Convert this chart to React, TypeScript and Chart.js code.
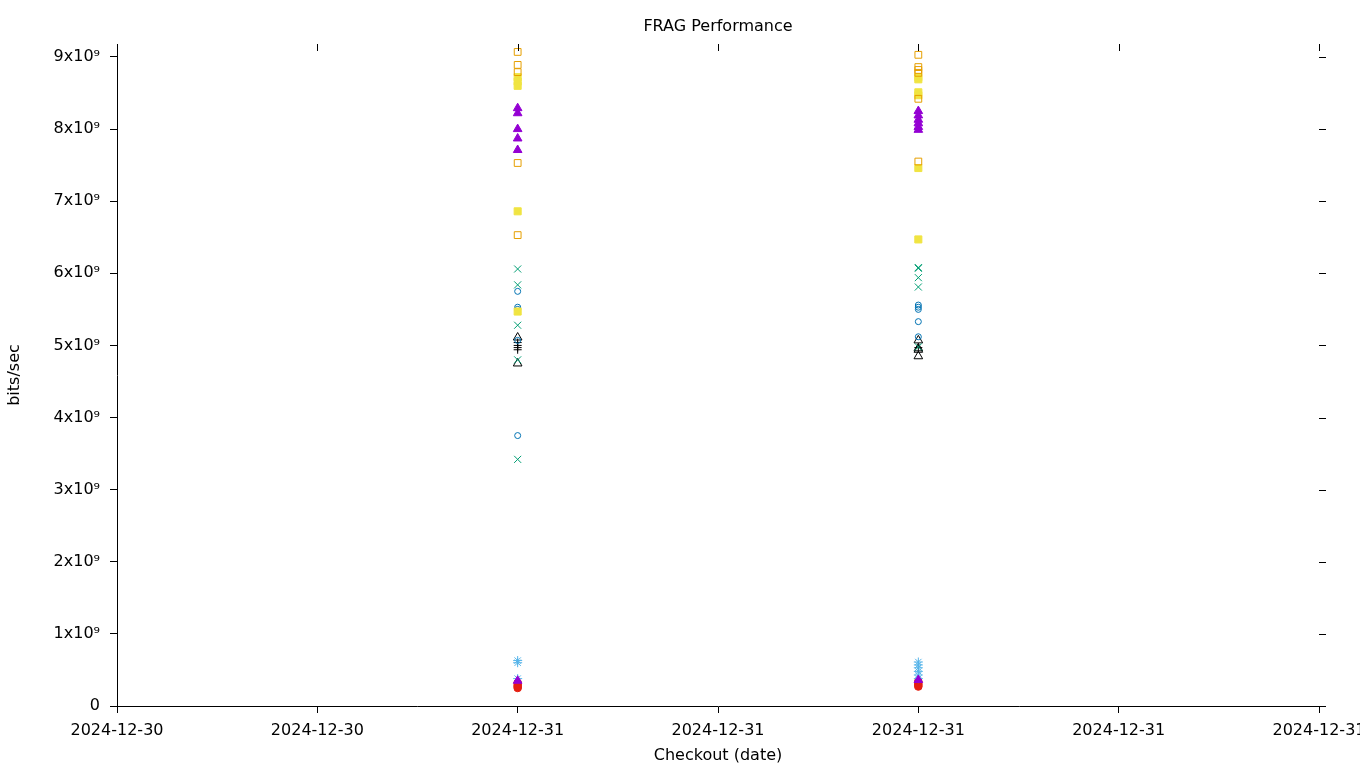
import { useEffect, useRef } from "react";
import { Chart, registerables } from "chart.js";

Chart.register(...registerables);

// x axis: positions 0..6 with their date labels; the two runs sit at 2 and 4
const xTickValues = [0, 1, 2, 3, 4, 5, 6];
const xTickLabels = [
  "2024-12-30",
  "2024-12-30",
  "2024-12-31",
  "2024-12-31",
  "2024-12-31",
  "2024-12-31",
  "2024-12-31",
];
const runX1 = 2;
const runX2 = 4;

const yTickValues = [0, 1e9, 2e9, 3e9, 4e9, 5e9, 6e9, 7e9, 8e9, 9e9];
const yTickLabels = [
  "0",
  "1x10⁹",
  "2x10⁹",
  "3x10⁹",
  "4x10⁹",
  "5x10⁹",
  "6x10⁹",
  "7x10⁹",
  "8x10⁹",
  "9x10⁹",
];
const yMax = 9.18e9;

// series values (bits/sec) for first and second run
const purpleRun1 = [8.29e9, 8.22e9, 8.0e9, 7.87e9, 7.71e9, 0.35e9];
const purpleRun2 = [8.25e9, 8.19e9, 8.13e9, 8.08e9, 8.03e9, 7.99e9, 0.36e9];
const greenRun1 = [6.06e9, 5.84e9, 5.28e9, 4.8e9, 3.42e9];
const greenRun2 = [6.08e9, 6.07e9, 5.94e9, 5.81e9, 4.98e9];
const lightBlueRun1 = [0.63e9, 0.6e9, 0.38e9];
const lightBlueRun2 = [0.61e9, 0.57e9, 0.53e9, 0.48e9, 0.43e9, 0.38e9];
const orangeRun1 = [9.07e9, 8.89e9, 8.79e9, 7.53e9, 6.53e9];
const orangeRun2 = [9.03e9, 8.86e9, 8.82e9, 8.78e9, 8.42e9, 7.55e9];
const yellowRun1 = [8.72e9, 8.66e9, 8.6e9, 6.86e9, 5.47e9];
const yellowRun2 = [8.72e9, 8.69e9, 8.51e9, 8.47e9, 7.46e9, 6.47e9];
const darkBlueRun1 = [5.75e9, 5.53e9, 5.5e9, 5.07e9, 3.75e9];
const darkBlueRun2 = [5.56e9, 5.53e9, 5.5e9, 5.33e9, 5.12e9];
const redRun1 = [0.32e9, 0.29e9, 0.27e9, 0.25e9];
const redRun2 = [0.34e9, 0.31e9, 0.29e9, 0.27e9];
const blackPlusRun1 = [5.04e9, 5.0e9, 4.97e9, 4.94e9];
const blackPlusRun2 = [4.97e9];
const blackTriRun1 = [5.11e9, 4.75e9];
const blackTriRun2 = [5.07e9, 4.96e9, 4.94e9, 4.85e9];

type SeriesDef = {
  run1: number[];
  run2: number[];
  color: string;
  style: string;
  radius: number;
  filled: boolean;
};

const seriesDefs: SeriesDef[] = [
  { run1: purpleRun1, run2: purpleRun2, color: "#9400D3", style: "triangle", radius: 5, filled: true },
  { run1: greenRun1, run2: greenRun2, color: "#009E73", style: "crossRot", radius: 5, filled: false },
  { run1: lightBlueRun1, run2: lightBlueRun2, color: "#56B4E9", style: "star", radius: 4.5, filled: false },
  { run1: orangeRun1, run2: orangeRun2, color: "#E69F00", style: "rect", radius: 4.8, filled: false },
  { run1: yellowRun1, run2: yellowRun2, color: "#F0E442", style: "rect", radius: 5, filled: true },
  { run1: darkBlueRun1, run2: darkBlueRun2, color: "#0072B2", style: "circle", radius: 3, filled: false },
  { run1: redRun1, run2: redRun2, color: "#E51E10", style: "circle", radius: 3.8, filled: true },
  { run1: blackPlusRun1, run2: blackPlusRun2, color: "#000000", style: "cross", radius: 4, filled: false },
  { run1: blackTriRun1, run2: blackTriRun2, color: "#000000", style: "triangle", radius: 5, filled: false },
];

const mirrorTicks = {
  id: "mirrorTicks",
  afterDraw(chart: any) {
    const { ctx, chartArea, scales } = chart;
    ctx.save();
    ctx.strokeStyle = "#000";
    ctx.lineWidth = 1;
    ctx.beginPath();
    scales.x.ticks.forEach((t: any) => {
      const px = Math.round(scales.x.getPixelForValue(t.value)) + 0.5;
      ctx.moveTo(px, chartArea.top);
      ctx.lineTo(px, chartArea.top + 7);
    });
    scales.y.ticks.forEach((t: any) => {
      const py = Math.round(scales.y.getPixelForValue(t.value)) + 0.5;
      ctx.moveTo(chartArea.right, py);
      ctx.lineTo(chartArea.right + 7, py);
    });
    ctx.stroke();
    ctx.restore();
  },
};

export default function App() {
  const canvasRef = useRef<HTMLCanvasElement | null>(null);

  useEffect(() => {
    document.body.style.margin = "0";
    document.body.style.overflow = "hidden";
    document.documentElement.style.overflow = "hidden";
    const canvas = canvasRef.current;
    if (!canvas) return;

    const datasets = seriesDefs.map((s) => ({
      data: [
        ...s.run1.map((v) => ({ x: runX1, y: v })),
        ...s.run2.map((v) => ({ x: runX2, y: v })),
      ],
      showLine: false,
      pointStyle: s.style,
      pointRadius: s.radius,
      pointHoverRadius: s.radius,
      borderColor: s.color,
      backgroundColor: s.filled ? s.color : "rgba(0,0,0,0)",
      pointBorderWidth: 1,
      borderWidth: 1,
    }));

    const chart = new Chart(canvas, {
      type: "scatter",
      data: { datasets },
      plugins: [mirrorTicks],
      options: {
        animation: false,
        responsive: true,
        maintainAspectRatio: false,
        layout: { padding: { left: 0, right: 41, top: 0, bottom: 0 } },
        font: { family: "'DejaVu Sans'", size: 16 },
        plugins: {
          legend: { display: false },
          tooltip: { enabled: false },
          title: {
            display: true,
            text: "FRAG Performance",
            fullSize: false,
            color: "#000",
            font: { family: "'DejaVu Sans'", size: 16, weight: "normal" },
            padding: { top: 17.4, bottom: 7.4 },
          },
        },
        scales: {
          x: {
            type: "linear",
            min: 0,
            max: 6,
            afterBuildTicks: (scale: any) => {
              scale.ticks = xTickValues.map((v) => ({ value: v }));
            },
            afterFit: (scale: any) => {
              scale.height = 62;
              scale.paddingLeft = 0;
              scale.paddingRight = 0;
            },
            ticks: {
              autoSkip: false,
              maxRotation: 0,
              padding: 8,
              color: "#000",
              font: { family: "'DejaVu Sans'", size: 16 },
              callback: (_v: any, i: number) => xTickLabels[i],
            },
            grid: {
              drawOnChartArea: false,
              drawTicks: true,
              tickLength: 7,
              color: "#000",
              lineWidth: 1,
            },
            border: { display: true, color: "#000", width: 1 },
            title: {
              display: true,
              text: "Checkout (date)",
              color: "#000",
              font: { family: "'DejaVu Sans'", size: 16 },
              padding: { top: 0, bottom: 2.4 },
            },
          },
          y: {
            type: "linear",
            min: 0,
            max: yMax,
            afterBuildTicks: (scale: any) => {
              scale.ticks = yTickValues.map((v) => ({ value: v }));
            },
            afterFit: (scale: any) => {
              scale.width = 117;
              scale.paddingTop = 0;
              scale.paddingBottom = 0;
            },
            ticks: {
              padding: 10,
              color: "#000",
              font: { family: "'DejaVu Sans'", size: 16 },
              callback: (_v: any, i: number) => yTickLabels[i],
            },
            grid: {
              drawOnChartArea: false,
              drawTicks: true,
              tickLength: 7,
              color: "#000",
              lineWidth: 1,
            },
            border: { display: true, color: "#000", width: 1 },
            title: {
              display: true,
              text: "bits/sec",
              color: "#000",
              font: { family: "'DejaVu Sans'", size: 16 },
              padding: { top: 5.4, bottom: 0 },
            },
          },
        },
      } as any,
    });

    return () => chart.destroy();
  }, []);

  return (
    <div style={{ position: "relative", width: "1360px", height: "768px" }}>
      <canvas ref={canvasRef} />
    </div>
  );
}
